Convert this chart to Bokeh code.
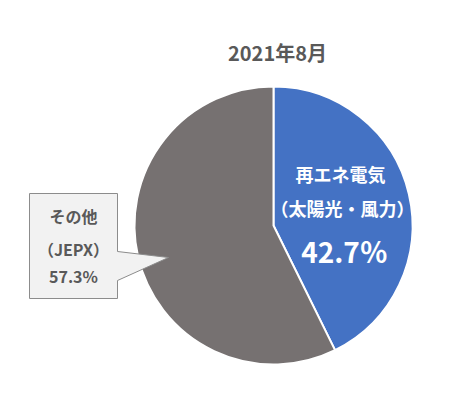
import math
from bokeh.plotting import figure
from bokeh.models import Range1d, ColumnDataSource
from bokeh.core.properties import value
from bokeh.embed import file_html
from bokeh.resources import INLINE

# ---- data ----
title_text = "2021年8月"
categories = ["再エネ電気（太陽光・風力）", "その他（JEPX）"]
shares = [42.7, 57.3]
colors = ["#4472C4", "#767171"]
renew_lines = ["再エネ電気", "（太陽光・風力）", "42.7％"]
other_lines = ["その他", "（JEPX）", "57.3%"]

W, H = 450, 382
p = figure(width=W, height=H, output_backend="svg", toolbar_location=None,
           x_range=Range1d(0, W), y_range=Range1d(0, H),
           min_border=0)
p.axis.visible = False
p.grid.visible = False
p.outline_line_color = None
p.background_fill_color = "white"
p.border_fill_color = "white"

def Y(yimg):
    return H - yimg

FONT = value("Noto Sans CJK JP")

# pie
cx, cy, r = 273, Y(225), 139
total = sum(shares)
starts, ends = [], []
acc = 0.0
for s in shares:
    starts.append(math.pi / 2 - 2 * math.pi * acc / total)
    acc += s
    ends.append(math.pi / 2 - 2 * math.pi * acc / total)
src = ColumnDataSource(dict(cat=categories, val=shares, start=starts, end=ends, color=colors))
p.wedge(x=cx, y=cy, radius=r, start_angle="start", end_angle="end", direction="clock",
        fill_color="color", line_color="white", line_width=2, source=src)

# callout box with pointer
bx = [29, 117, 117, 168, 117, 117, 29]
by = [193, 193, 251, 257, 280, 298, 298]
p.patch(x=bx, y=[Y(v) for v in by], fill_color="#F2F2F2", line_color="#8C8C8C", line_width=1)

# title
p.text(x=[277], y=[Y(52)], text=[title_text], text_font=FONT, text_font_style="bold",
       text_font_size="20px", text_color="#595959", text_align="center", text_baseline="middle")

# other label
p.text(x=[73, 73, 73], y=[Y(215), Y(248), Y(275)], text=other_lines, text_font=FONT,
       text_font_style="bold", text_font_size="16px", text_color="#595959",
       text_align="center", text_baseline="middle")

# renewable label
p.text(x=[340, 342], y=[Y(173), Y(207)], text=renew_lines[:2], text_font=FONT,
       text_font_style="bold", text_font_size="18px", text_color="white",
       text_align="center", text_baseline="middle")
p.text(x=[344], y=[Y(250)], text=renew_lines[2:], text_font=FONT,
       text_font_style="bold", text_font_size="28px", text_color="white",
       text_align="center", text_baseline="middle")

open("out.html", "w").write(file_html(p, INLINE))
